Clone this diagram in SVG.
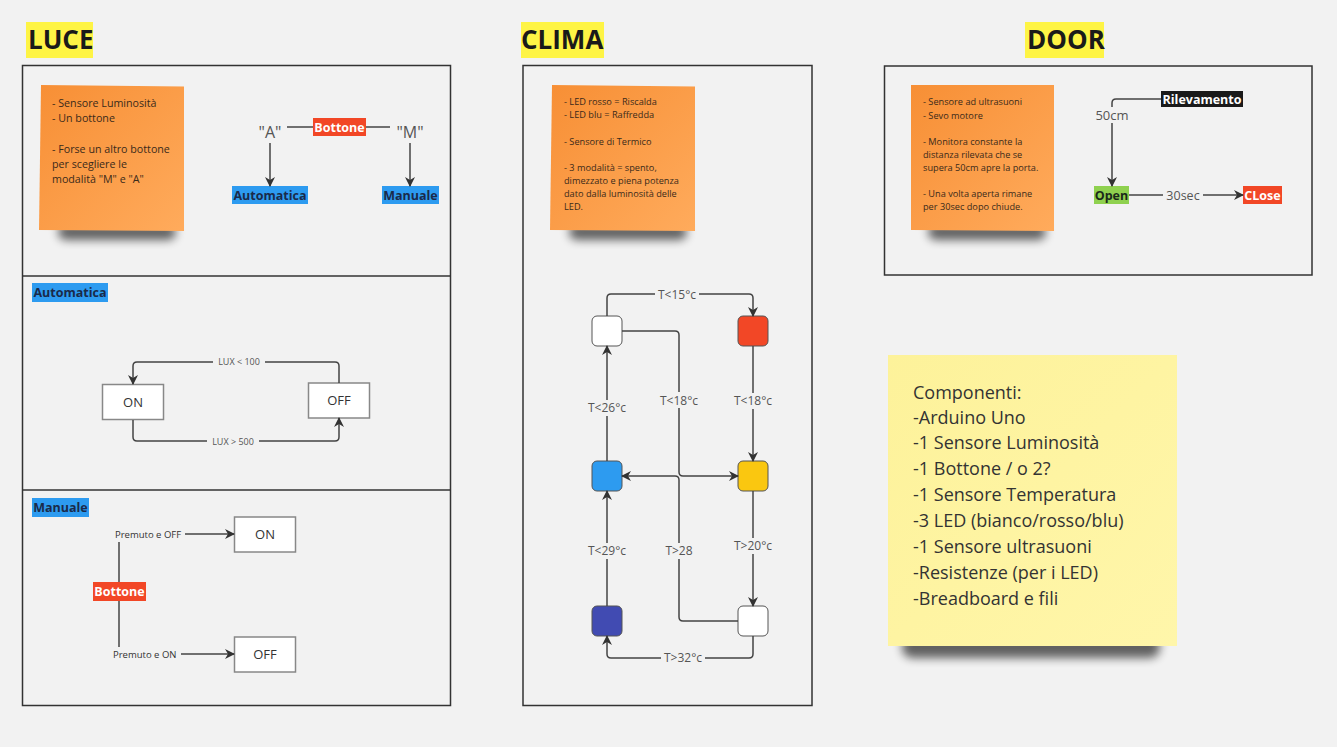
<svg xmlns="http://www.w3.org/2000/svg" width="1337" height="747" viewBox="0 0 1337 747">
<defs>
<style>
text{font-family:"Open Sans","Noto Sans","DejaVu Sans",sans-serif}
.frame{fill:#f2f2f2;stroke:#333;stroke-width:1.5}
.title{font-size:26px;font-weight:700;fill:#1a1a1a}
.tbg{fill:#fef445}
.note{font-size:10.7px;fill:#3a2a1a}
.note9{font-size:9.2px;fill:#3a2a1a}
.conn{fill:none;stroke:#444;stroke-width:1.5;stroke-linejoin:round}
.box{fill:#fff;stroke:#888;stroke-width:1.5}
.boxt{font-size:13px;fill:#333;text-anchor:middle}
.lbl{fill:#555;text-anchor:middle}
.lbg{fill:#f2f2f2}
.tag{font-size:12.5px;font-weight:700;text-anchor:middle}
.led{stroke:#555;stroke-width:1}
.shd{fill:#000;opacity:0.6}
</style>
<linearGradient id="og" x1="0" y1="0" x2="1" y2="1">
<stop offset="0" stop-color="#f78f35"/><stop offset="1" stop-color="#ffab5c"/>
</linearGradient>
<linearGradient id="yg" x1="0" y1="0" x2="1" y2="1">
<stop offset="0" stop-color="#fdf29a"/><stop offset="1" stop-color="#fff6aa"/>
</linearGradient>
<filter id="sh" x="-30%" y="-150%" width="160%" height="400%"><feGaussianBlur stdDeviation="5"/></filter>
<marker id="ar2" viewBox="0 0 10 10" refX="9" refY="5" markerWidth="10" markerHeight="10" markerUnits="userSpaceOnUse" orient="auto">
<path d="M0,0 L10,5 L0,10 L3,5 Z" fill="#333"/>
</marker>
</defs>
<rect width="1337" height="747" fill="#f2f2f2"/>

<!-- ============ LUCE ============ -->
<g id="luce-title"><rect class="tbg" x="26" y="22" width="67" height="36"/><text class="title" x="28" y="49">LUCE</text></g>
<g id="luce-frame">
<rect class="frame" x="22.5" y="65.5" width="428" height="640"/>
<line x1="22.5" y1="276" x2="450.5" y2="276" stroke="#333" stroke-width="1.5"/>
<line x1="22.5" y1="490" x2="450.5" y2="490" stroke="#333" stroke-width="1.5"/>
</g>
<g id="luce-note">
<rect class="shd" x="58" y="224" width="118" height="16" rx="8" filter="url(#sh)"/>
<path d="M41,85 L184,86.5 L184,231 L39,230 Z" fill="url(#og)"/>
<text class="note" x="52" y="106.5">- Sensore Luminosità</text>
<text class="note" x="52" y="121.5">- Un bottone</text>
<text class="note" x="52" y="152.5">- Forse un altro bottone</text>
<text class="note" x="52" y="168">per scegliere le</text>
<text class="note" x="52" y="183">modalità "M" e "A"</text>
</g>
<g id="luce-a"><text class="lbl" x="270" y="138" font-size="16" fill="#555">"A"</text></g>
<g id="luce-m"><text class="lbl" x="410" y="138" font-size="16">"M"</text></g>
<g id="luce-bottone"><rect x="313" y="118" width="53" height="18" fill="#f24726"/><text class="tag" x="339.5" y="131.5" fill="#fff" font-size="12">Bottone</text></g>
<g id="luce-automatica"><rect x="232" y="186" width="76" height="18" fill="#2d9bf0"/><text class="tag" x="270" y="200" fill="#1a2a4a">Automatica</text></g>
<g id="luce-manuale"><rect x="382" y="186" width="57" height="18" fill="#2d9bf0"/><text class="tag" x="410.5" y="200" fill="#1a2a4a">Manuale</text></g>

<g id="auto-header"><rect x="32" y="283" width="76" height="19" fill="#2d9bf0"/><text class="tag" x="70" y="297" fill="#1a2a4a" font-size="12">Automatica</text></g>
<g id="auto-on"><rect class="box" x="102.5" y="384.5" width="61" height="35"/><text class="boxt" x="133" y="407">ON</text></g>
<g id="auto-off"><rect class="box" x="308.5" y="383" width="61" height="35"/><text class="boxt" x="339" y="405">OFF</text></g>

<g id="man-header"><rect x="32" y="498" width="57" height="19" fill="#2d9bf0"/><text class="tag" x="60.5" y="512" fill="#1a2a4a" font-size="12">Manuale</text></g>
<g id="man-on"><rect class="box" x="234.5" y="517" width="61" height="35"/><text class="boxt" x="265" y="539">ON</text></g>
<g id="man-off"><rect class="box" x="234.5" y="637" width="61" height="35"/><text class="boxt" x="265" y="659">OFF</text></g>
<g id="man-bottone"><rect x="93" y="582" width="53" height="19" fill="#f24726"/><text class="tag" x="119.5" y="596" fill="#fff" font-size="12">Bottone</text></g>

<!-- ============ CLIMA ============ -->
<g id="clima-title"><rect class="tbg" x="521" y="22" width="83" height="36"/><text class="title" x="521" y="49">CLIMA</text></g>
<g id="clima-frame"><rect class="frame" x="523" y="65.5" width="289" height="640"/></g>
<g id="clima-note">
<rect class="shd" x="569" y="224" width="118" height="16" rx="8" filter="url(#sh)"/>
<path d="M552,85 L695,86.5 L695,231 L550,230 Z" fill="url(#og)"/>
<text class="note9" x="564" y="105">- LED rosso = Riscalda</text>
<text class="note9" x="564" y="118">- LED blu = Raffredda</text>
<text class="note9" x="564" y="145">- Sensore di Termico</text>
<text class="note9" x="564" y="171">- 3 modalità = spento,</text>
<text class="note9" x="564" y="184">dimezzato e piena potenza</text>
<text class="note9" x="564" y="197">dato dalla luminosità delle</text>
<text class="note9" x="564" y="210">LED.</text>
</g>
<g id="led-white1"><rect class="led" x="592" y="316" width="30" height="30" rx="5" fill="#fff"/></g>
<g id="led-red"><rect class="led" x="738" y="316" width="30" height="30" rx="5" fill="#f24726"/></g>
<g id="led-blue"><rect class="led" x="592" y="461" width="30" height="30" rx="5" fill="#2d9bf0"/></g>
<g id="led-yellow"><rect class="led" x="738" y="461" width="30" height="30" rx="5" fill="#fac710"/></g>
<g id="led-darkblue"><rect class="led" x="592" y="606" width="30" height="30" rx="5" fill="#414bb2"/></g>
<g id="led-white2"><rect class="led" x="738" y="606" width="30" height="30" rx="5" fill="#fff"/></g>

<!-- ============ DOOR ============ -->
<g id="door-title"><rect class="tbg" x="1025" y="22" width="79" height="36"/><text class="title" x="1027" y="49">DOOR</text></g>
<g id="door-frame"><rect class="frame" x="884.5" y="66" width="427.5" height="209"/></g>
<g id="door-note">
<rect class="shd" x="928" y="224" width="118" height="16" rx="8" filter="url(#sh)"/>
<path d="M911,85 L1054,85 L1054,231 L911,230 Z" fill="url(#og)"/>
<text class="note9" x="923" y="105">- Sensore ad ultrasuoni</text>
<text class="note9" x="923" y="118.5">- Sevo motore</text>
<text class="note9" x="923" y="145">- Monitora constante la</text>
<text class="note9" x="923" y="158">distanza rilevata che se</text>
<text class="note9" x="923" y="171">supera 50cm apre la porta.</text>
<text class="note9" x="923" y="197">- Una volta aperta rimane</text>
<text class="note9" x="923" y="210">per 30sec dopo chiude.</text>
</g>
<g id="door-rilevamento"><rect x="1161" y="91" width="82" height="16" fill="#1a1a1a"/><text class="tag" x="1202" y="103.5" fill="#fff" font-size="12">Rilevamento</text></g>
<g id="door-open"><rect x="1094" y="186" width="35" height="18" fill="#8fd14f"/><text class="tag" x="1111.5" y="200" fill="#1a2a1a" font-size="12">Open</text></g>
<g id="door-close"><rect x="1243" y="186" width="39" height="18" fill="#f24726"/><text class="tag" x="1262.5" y="200" fill="#fff" font-size="12">CLose</text></g>

<!-- ============ COMPONENTI ============ -->
<g id="componenti">
<rect class="shd" x="902" y="636" width="258" height="22" rx="10" filter="url(#sh)"/>
<rect x="888" y="355" width="289" height="291" fill="url(#yg)"/>
<g font-size="18" fill="#333">
<text x="913" y="398.5">Componenti:</text>
<text x="913" y="423.5">-Arduino Uno</text>
<text x="913" y="449">-1 Sensore Luminosità</text>
<text x="913" y="474.5">-1 Bottone / o 2?</text>
<text x="913" y="500.5">-1 Sensore Temperatura</text>
<text x="913" y="526.5">-3 LED (bianco/rosso/blu)</text>
<text x="913" y="552.5">-1 Sensore ultrasuoni</text>
<text x="913" y="579">-Resistenze (per i LED)</text>
<text x="913" y="604.5">-Breadboard e fili</text>
</g>
</g>

<!-- ============ CONNECTORS ============ -->
<g id="connectors">
<!-- LUCE top -->
<path class="conn" d="M287,127 H313"/>
<path class="conn" d="M366,127 H390"/>
<path class="conn" d="M270,143 V186" marker-end="url(#ar2)"/>
<path class="conn" d="M410,143 V186" marker-end="url(#ar2)"/>
<!-- Automatica -->
<path class="conn" d="M339,383 V366 Q339,362 335,362 H137 Q133,362 133,366 V384" marker-end="url(#ar2)"/>
<path class="conn" d="M133,420 V437 Q133,441 137,441 H335 Q339,441 339,437 V418" marker-end="url(#ar2)"/>
<rect class="lbg" x="213" y="356" width="52" height="12"/>
<text class="lbl" x="239" y="365" font-size="9">LUX &lt; 100</text>
<rect class="lbg" x="207" y="435" width="52" height="12"/>
<text class="lbl" x="233" y="444.5" font-size="9">LUX &gt; 500</text>
<!-- Manuale -->
<path class="conn" d="M119,582 V542"/>
<path class="conn" d="M119,601 V647"/>
<text x="115" y="537.5" font-size="9.5" fill="#333">Premuto e OFF</text>
<path class="conn" d="M185,534 H234" marker-end="url(#ar2)"/>
<text x="113" y="657.5" font-size="9.5" fill="#333">Premuto e ON</text>
<path class="conn" d="M181,654 H234" marker-end="url(#ar2)"/>
<!-- CLIMA -->
<path class="conn" d="M607,316 V298 Q607,294 611,294 H749 Q753,294 753,298 V316" marker-end="url(#ar2)"/>
<path class="conn" d="M753,346 V461" marker-end="url(#ar2)"/>
<path class="conn" d="M622,331 H675 Q679,331 679,335 V472 Q679,476 683,476 H738" marker-end="url(#ar2)"/>
<path class="conn" d="M607,461 V346" marker-end="url(#ar2)"/>
<path class="conn" d="M738,621 H683 Q679,621 679,617 V480 Q679,476 675,476 H622" marker-end="url(#ar2)"/>
<path class="conn" d="M753,491 V606" marker-end="url(#ar2)"/>
<path class="conn" d="M753,636 V654 Q753,658 749,658 H611 Q607,658 607,654 V636" marker-end="url(#ar2)"/>
<path class="conn" d="M607,606 V491" marker-end="url(#ar2)"/>
<g font-size="12">
<rect class="lbg" x="655" y="286" width="44" height="16"/><text class="lbl" x="677" y="298.5">T&lt;15°c</text>
<rect class="lbg" x="731" y="393" width="44" height="16"/><text class="lbl" x="753" y="405">T&lt;18°c</text>
<rect class="lbg" x="657" y="392" width="44" height="16"/><text class="lbl" x="679" y="404.5">T&lt;18°c</text>
<rect class="lbg" x="585" y="400" width="44" height="16"/><text class="lbl" x="607" y="412">T&lt;26°c</text>
<rect class="lbg" x="663" y="543" width="32" height="16"/><text class="lbl" x="679" y="555">T&gt;28</text>
<rect class="lbg" x="731" y="538" width="44" height="16"/><text class="lbl" x="753" y="550">T&gt;20°c</text>
<rect class="lbg" x="661" y="650" width="44" height="16"/><text class="lbl" x="683" y="662">T&gt;32°c</text>
<rect class="lbg" x="585" y="543" width="44" height="16"/><text class="lbl" x="607" y="555">T&lt;29°c</text>
</g>
<!-- DOOR -->
<path class="conn" d="M1161,99 H1116 Q1112,99 1112,103 V186" marker-end="url(#ar2)"/>
<rect class="lbg" x="1094" y="107" width="36" height="16"/>
<text class="lbl" x="1112" y="119.5" font-size="13">50cm</text>
<path class="conn" d="M1129,195 H1243" marker-end="url(#ar2)"/>
<rect class="lbg" x="1163" y="187" width="40" height="16"/>
<text class="lbl" x="1183" y="199.5" font-size="12.5" fill="#444">30sec</text>
</g>
</svg>
